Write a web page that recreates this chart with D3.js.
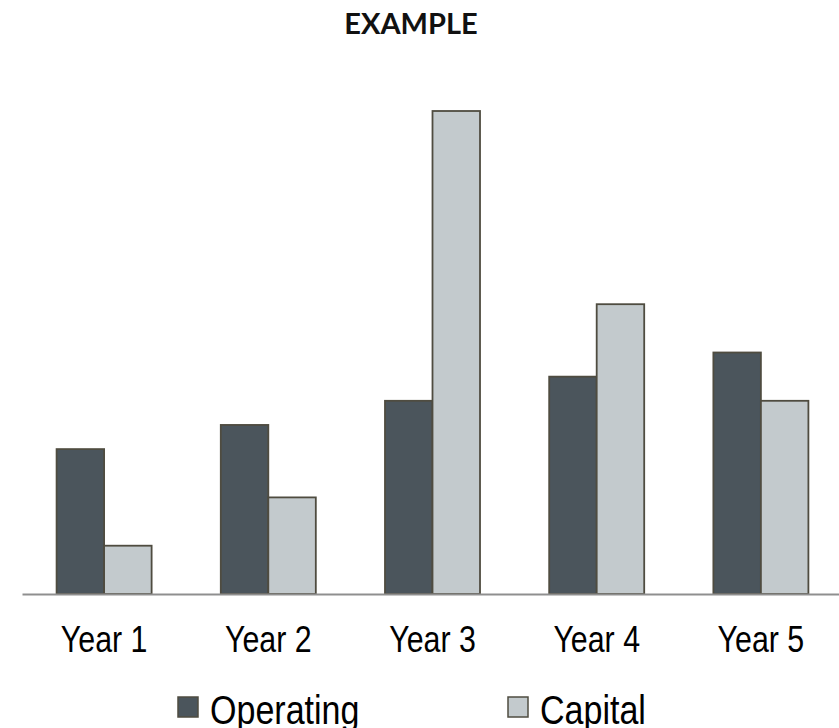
<!DOCTYPE html>
<html>
<head>
<meta charset="utf-8">
<script src="https://cdn.jsdelivr.net/npm/d3@7/dist/d3.min.js"></script>
<style>
  html, body { margin: 0; padding: 0; background: #fff; }
  svg { display: block; }
</style>
</head>
<body>
<script>
const categories = ["Year 1", "Year 2", "Year 3", "Year 4", "Year 5"];
const seriesNames = ["Operating", "Capital"];
const operating = [3, 3.5, 4, 4.5, 5];
const capital = [1, 2, 10, 6, 4];
const colors = ["#4b555c", "#c3cacd"];
const title = "EXAMPLE";

const W = 839, H = 728;
const svg = d3.select("body").append("svg").attr("width", W).attr("height", H);

const x0 = d3.scaleBand().domain(categories).range([22, 843]).paddingInner(0.4213).paddingOuter(0.2107);
const x1 = d3.scaleBand().domain(seriesNames).range([0, x0.bandwidth()]);
const y = d3.scaleLinear().domain([0, d3.max(capital.concat(operating))]).range([594, 111]);
const color = d3.scaleOrdinal().domain(seriesNames).range(colors);

const rows = categories.map((c, i) => ({ cat: c, vals: [
  { s: "Operating", v: operating[i] }, { s: "Capital", v: capital[i] }] }));

const narrowFont = "'Liberation Sans Narrow', 'Arial Narrow', 'Liberation Sans', Arial, sans-serif";
function condense(sel, factor) {
  sel.each(function () {
    const w = this.getComputedTextLength();
    d3.select(this).attr("textLength", w * factor).attr("lengthAdjust", "spacingAndGlyphs");
  });
}

svg.append("text").attr("x", 411).attr("y", 34).attr("text-anchor", "middle")
  .attr("font-family", "Lato, 'Open Sans', sans-serif").attr("font-weight", "bold")
  .attr("font-size", 29).attr("fill", "#111").text(title);

const g = svg.append("g");
g.selectAll("g.cat").data(rows).join("g").attr("class", "cat")
  .attr("transform", d => `translate(${x0(d.cat)},0)`)
  .selectAll("rect").data(d => d.vals).join("rect")
  .attr("x", d => x1(d.s)).attr("y", d => y(d.v))
  .attr("width", x1.bandwidth()).attr("height", d => y(0) - y(d.v))
  .attr("fill", d => color(d.s)).attr("stroke", "#4f4c40").attr("stroke-width", 1.8);

// x axis
const xAxis = svg.append("g").attr("transform", `translate(0,${y(0)})`)
  .call(d3.axisBottom(x0).tickSize(0).tickPadding(0));
xAxis.select(".domain").attr("stroke", "#8f8f8f").attr("stroke-width", 2);
xAxis.selectAll("text").attr("font-family", narrowFont)
  .attr("font-size", 37).attr("fill", "#000").attr("dy", null).attr("y", 58);
condense(xAxis.selectAll("text"), 0.82);

// legend
const legendX = [178, 508];
const leg = svg.append("g").selectAll("g").data(seriesNames).join("g")
  .attr("transform", (d, i) => `translate(${legendX[i]},697)`);
leg.append("rect").attr("width", 20).attr("height", 20)
  .attr("fill", d => color(d)).attr("stroke", "#4f4c40").attr("stroke-width", 1.5);
const legText = leg.append("text").attr("x", 32).attr("y", 27)
  .attr("font-family", narrowFont)
  .attr("font-size", 41.5).attr("fill", "#000").text(d => d);
condense(legText, 0.82);
</script>
</body>
</html>
